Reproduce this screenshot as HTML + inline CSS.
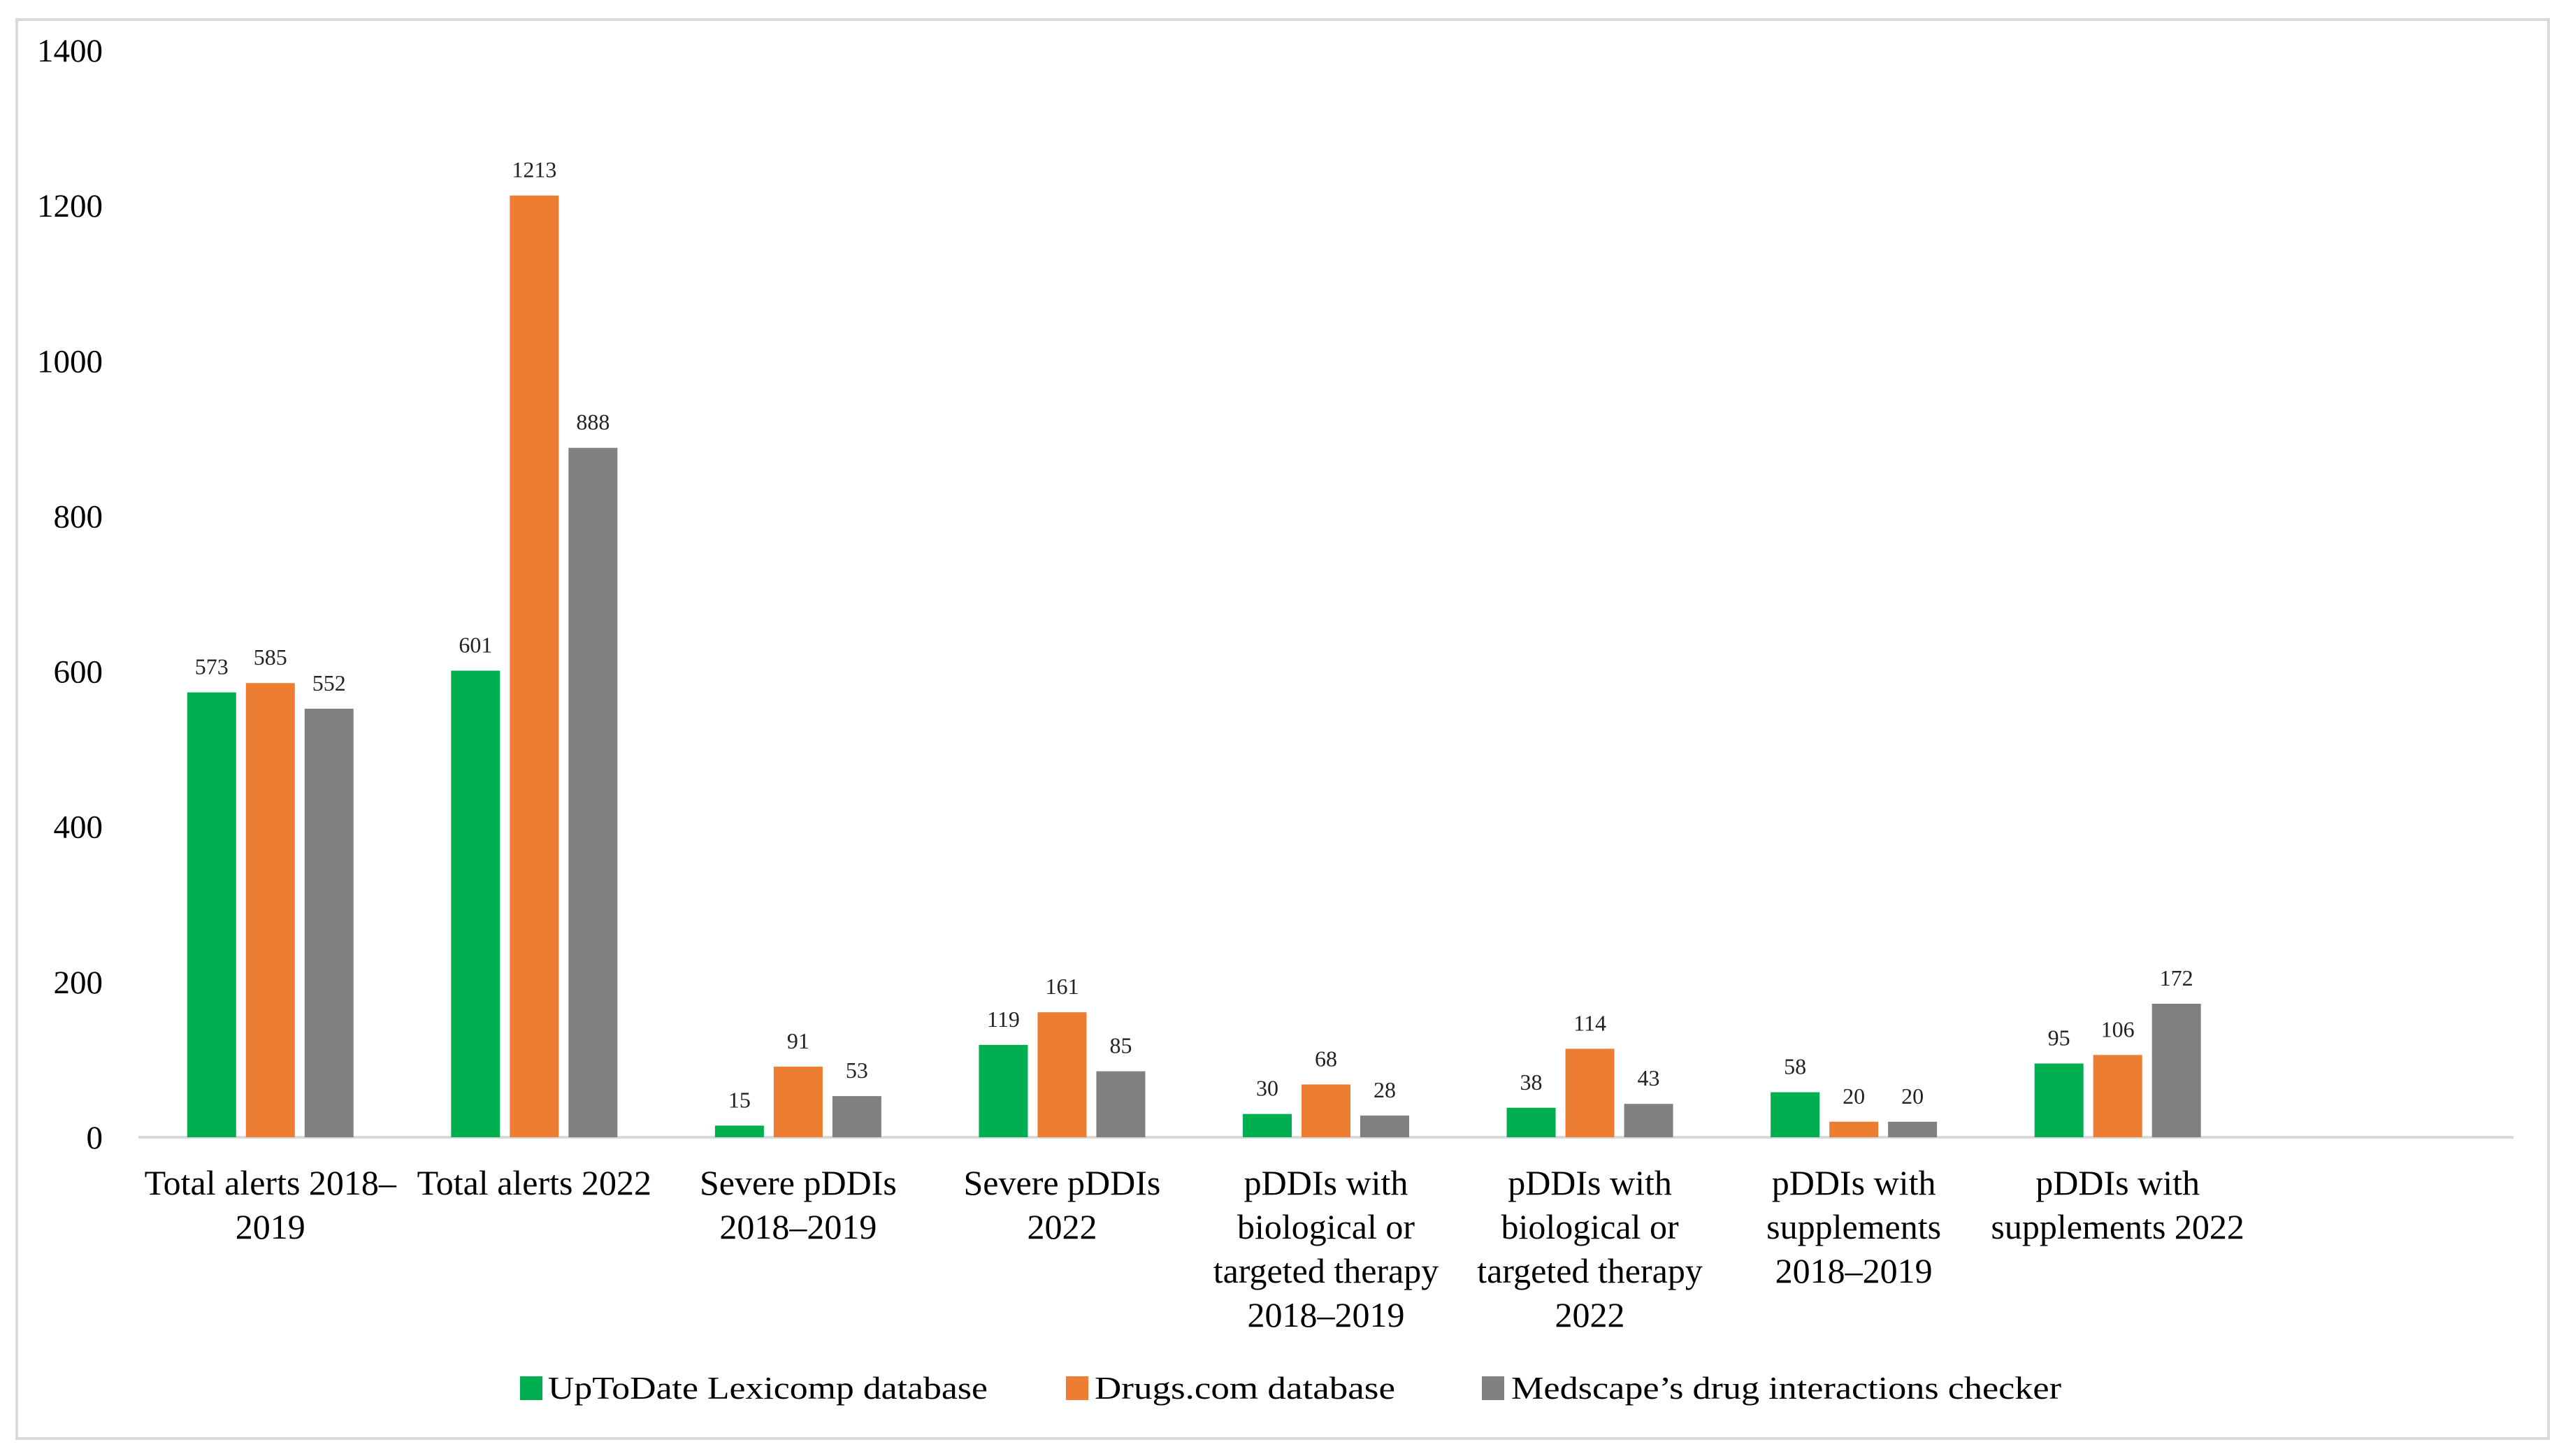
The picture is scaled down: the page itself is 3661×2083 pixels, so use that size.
<!DOCTYPE html>
<html><head><meta charset="utf-8"><style>
html,body{margin:0;padding:0;background:#fff;}
svg{display:block;font-family:"Liberation Serif",serif;}
</style></head><body>
<svg id="chart" width="3661" height="2083" viewBox="0 0 3661 2083" xmlns="http://www.w3.org/2000/svg">
<rect x="24" y="28" width="3622" height="2030" fill="#fff" stroke="#d9d9d9" stroke-width="4"/>
<g id="grid"></g><g id="bars"></g><g id="labels"></g>
<g font-size="46" fill="#000">
<g><rect x="744" y="1969" width="32" height="34" fill="#00B050"/><text x="784" y="2001" textLength="629" lengthAdjust="spacingAndGlyphs">UpToDate Lexicomp database</text></g>
<g><rect x="1525" y="1969" width="32" height="34" fill="#ED7D31"/><text x="1566" y="2001" textLength="430" lengthAdjust="spacingAndGlyphs">Drugs.com database</text></g>
<g><rect x="2120" y="1969" width="32" height="34" fill="#808080"/><text x="2162" y="2001" textLength="787" lengthAdjust="spacingAndGlyphs">Medscape’s drug interactions checker</text></g>
</g>
</svg>
<script>
const categories = [
  ["Total alerts 2018–","2019"],
  ["Total alerts 2022"],
  ["Severe pDDIs","2018–2019"],
  ["Severe pDDIs","2022"],
  ["pDDIs with","biological or","targeted therapy","2018–2019"],
  ["pDDIs with","biological or","targeted therapy","2022"],
  ["pDDIs with","supplements","2018–2019"],
  ["pDDIs with","supplements 2022"]
];
const upToDate = [573, 601, 15, 119, 30, 38, 58, 95];
const drugsCom = [585, 1213, 91, 161, 68, 114, 20, 106];
const medscape = [552, 888, 53, 85, 28, 43, 20, 172];
const yTicks = [0, 200, 400, 600, 800, 1000, 1200, 1400];

const NS = "http://www.w3.org/2000/svg";
const x0 = 198, x1 = 3596, nSlots = 9, y0 = 1627, yMax = 1400, yTop = 72;
const slot = (x1 - x0) / nSlots;
function xScale(i){ return x0 + slot * (i + 0.5); }
function yScale(v){ return y0 - (y0 - yTop) * v / yMax; }
function mk(tag, attrs, parent){ const e = document.createElementNS(NS, tag); for (const k in attrs) e.setAttribute(k, attrs[k]); parent.appendChild(e); return e; }

const grid = document.getElementById('grid');
const barsG = document.getElementById('bars');
const labG = document.getElementById('labels');

yTicks.forEach(t => {
  const tx = mk('text', {x: 147, y: yScale(t) + 16, 'text-anchor': 'end', 'font-size': 47, fill: '#000'}, labG);
  tx.textContent = t;
  
  
});
const axis = mk('line', {x1: x0, x2: x1, y1: y0, y2: y0, stroke: '#d9d9d9', 'stroke-width': 4}, grid);



const series = [[upToDate, '#00B050', -84, 'uptodate'], [drugsCom, '#ED7D31', 0, 'drugs-com'], [medscape, '#808080', 84, 'medscape']];
categories.forEach((lines, i) => {
  const cx = xScale(i);
  series.forEach(([vals, col, off, nm]) => {
    const v = vals[i];
    const r = mk('rect', {x: cx + off - 35, y: yScale(v), width: 70, height: y0 - yScale(v), fill: col}, barsG);
    
    
    const t = mk('text', {x: cx + off, y: yScale(v) - 26, 'text-anchor': 'middle', 'font-size': 32, fill: '#222'}, labG);
    t.textContent = v;
    
    
  });
  lines.forEach((ln, j) => {
    const t = mk('text', {x: cx, y: 1709 + j * 63, 'text-anchor': 'middle', 'font-size': 50, fill: '#000'}, labG);
    t.textContent = ln;
    
    
  });
});
</script>
</body></html>
